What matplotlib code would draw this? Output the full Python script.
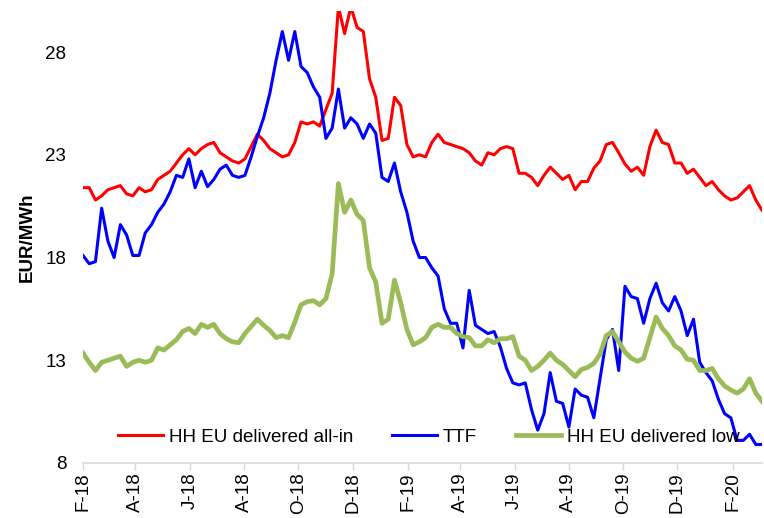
import pandas as pd
import matplotlib.pyplot as plt

# -------- DATA (weekly readings, EUR/MWh) --------
start_date = "2018-02-01"

hh_all_in = [21.4, 21.4, 20.8, 21.0, 21.3, 21.4, 21.5, 21.1, 21.0, 21.4,
             21.2, 21.3, 21.8, 22.0, 22.2, 22.6, 23.0, 23.3, 23.0, 23.3,
             23.5, 23.6, 23.1, 22.9, 22.7, 22.6, 22.8, 23.4, 24.0, 23.7,
             23.3, 23.1, 22.9, 23.0, 23.6, 24.6, 24.5, 24.6, 24.4, 25.2,
             26.0, 30.2, 28.9, 30.2, 29.2, 29.0, 26.7, 25.8, 23.7, 23.8,
             25.8, 25.4, 23.5, 22.9, 23.0, 22.9, 23.6, 24.0, 23.6, 23.5,
             23.4, 23.3, 23.1, 22.7, 22.5, 23.1, 23.0, 23.3, 23.4, 23.3,
             22.1, 22.1, 21.9, 21.5, 22.0, 22.4, 22.1, 21.8, 22.0, 21.3,
             21.7, 21.7, 22.35, 22.7, 23.5, 23.6, 23.1, 22.55, 22.2, 22.4,
             22.0, 23.4, 24.2, 23.6, 23.5, 22.6, 22.6, 22.1, 22.3, 21.9,
             21.5, 21.7, 21.3, 21.0, 20.8, 20.9, 21.2, 21.5, 20.8, 20.3]

ttf = [18.1, 17.7, 17.8, 20.4, 18.8, 18.0, 19.6, 19.1, 18.1, 18.1,
       19.2, 19.6, 20.2, 20.6, 21.2, 22.0, 21.9, 22.8, 21.4, 22.2,
       21.45, 21.8, 22.3, 22.5, 22.0, 21.9, 22.0, 22.9, 23.9, 24.8,
       26.0, 27.6, 29.0, 27.6, 29.0, 27.3, 27.0, 26.3, 25.8, 23.8,
       24.3, 26.2, 24.3, 24.8, 24.5, 23.8, 24.5, 24.05, 21.9, 21.7,
       22.6, 21.2, 20.2, 18.8, 18.0, 18.0, 17.5, 17.1, 15.5, 14.8,
       14.8, 13.6, 16.4, 14.7, 14.5, 14.3, 14.4, 13.65, 12.6, 11.9,
       11.8, 11.9, 10.6, 9.6, 10.4, 12.4, 11.0, 10.9, 9.75, 11.6,
       11.3, 11.2, 10.2, 12.1, 14.0, 14.5, 12.5, 16.6, 16.1, 16.0,
       14.8, 16.0, 16.75, 15.8, 15.4, 16.1, 15.4, 14.2, 15.0, 12.9,
       12.4, 12.0, 11.1, 10.4, 10.2, 9.1, 9.1, 9.4, 8.9, 8.9]

hh_low = [13.35, 12.9, 12.5, 12.9, 13.0, 13.1, 13.2, 12.7, 12.9, 13.0,
          12.9, 13.0, 13.6, 13.5, 13.75, 14.0, 14.4, 14.55, 14.3, 14.75,
          14.6, 14.75, 14.3, 14.05, 13.9, 13.85, 14.3, 14.65, 15.0, 14.7,
          14.45, 14.1, 14.2, 14.1, 14.85, 15.7, 15.85, 15.9, 15.7, 16.0,
          17.2, 21.6, 20.2, 20.8, 20.1, 19.8, 17.5, 16.8, 14.8, 15.0,
          16.9, 15.8, 14.5, 13.75, 13.9, 14.1, 14.6, 14.75, 14.6, 14.6,
          14.3, 14.15, 14.1, 13.7, 13.7, 14.0, 13.85, 14.05, 14.05, 14.15,
          13.2, 13.0, 12.5, 12.7, 13.0, 13.35, 13.0, 12.8, 12.5, 12.2,
          12.55, 12.65, 12.85, 13.3, 14.2, 14.4, 13.9, 13.4, 13.1, 12.95,
          13.1, 14.1, 15.1, 14.55, 14.2, 13.7, 13.5, 13.05, 13.0, 12.5,
          12.5, 12.6, 12.1, 11.75, 11.55, 11.4, 11.6, 12.1, 11.4, 11.0]

dates = pd.date_range(start_date, periods=len(ttf), freq="7D")

plt.rcParams["font.family"] = ["Liberation Sans", "DejaVu Sans"]

fig = plt.figure(figsize=(7.64, 5.18), dpi=100)
ax = fig.add_axes([0.1086, 0.1062, 0.8888, 0.8726])

# -------- LINES --------
ax.plot(dates, hh_all_in, color="#FF0000", linewidth=2.2, label="HH EU delivered all-in")
ax.plot(dates, ttf, color="#0000FF", linewidth=2.2, label="TTF")
ax.plot(dates, hh_low, color="#9BBB59", linewidth=3.4, label="HH EU delivered low")

# -------- AXES --------
ax.set_ylim(8, 30)
ax.set_yticks([8, 13, 18, 23, 28])
ax.set_xlim(dates[0], dates[-1])

ticks = pd.date_range("2018-02-01", "2020-02-01", freq="2MS")
ax.set_xticks(ticks)
ax.set_xticklabels([d.strftime("%b")[0] + "-" + d.strftime("%y") for d in ticks],
                   rotation=90)

for s in ["top", "right", "left"]:
    ax.spines[s].set_visible(False)
ax.spines["bottom"].set_color("#D9D9D9")
ax.spines["bottom"].set_linewidth(1.2)

ax.tick_params(axis="y", length=0, pad=12, labelsize=13.5)
ax.tick_params(axis="x", length=5, width=1, color="#D9D9D9", pad=2, labelsize=13.5)

ax.set_ylabel("EUR/MWh", fontsize=13.5, fontweight="bold", labelpad=7)

# LEGEND
ax.legend(loc="center left", bbox_to_anchor=(0.0515, 0.0575), ncol=3,
          frameon=False, fontsize=13.5, handlelength=2.4, handletextpad=0.3,
          columnspacing=2.1, borderpad=0, borderaxespad=0)

# -------- SAVE --------
fig.savefig("out.png", dpi=100)
